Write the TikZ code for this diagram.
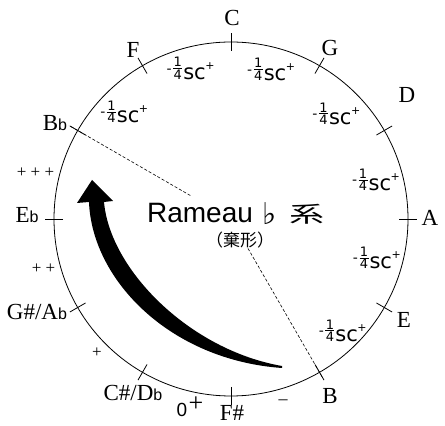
\documentclass[tikz,border=0pt]{standalone}
\usepackage{fontspec}
\setmainfont{Liberation Serif}
\setsansfont{Liberation Sans}
\newfontfamily\cjkfont{Noto Sans CJK JP}
\newfontfamily\symfont{DejaVu Sans}
\usetikzlibrary{calc,positioning}
\tikzset{
    note name/.style={inner sep=0pt,font=\fontsize{23}{23}\selectfont},
    comma label/.style={inner sep=0pt,font=\symfont\fontsize{14}{14}\selectfont},
    sign/.style={inner sep=0pt,font=\fontsize{17}{17}\selectfont},
    notch/.style={line width=0.8pt},
    guide/.style={line width=0.6pt,dash pattern=on 3pt off 2pt}
}
\newcommand{\flt}{\textsf{\fontsize{16}{16}\selectfont b}}
\newcommand{\qfrac}{\vbox{\fontsize{13}{13}\selectfont\offinterlineskip
    \halign{\hfil##\hfil\cr 1\cr\noalign{\kern1pt}\rule{9pt}{0.6pt}\cr\noalign{\kern1.2pt}4\cr}}}
\newcommand{\quartsc}{\raisebox{6pt}{-}\kern1.5pt\qfrac\kern1pt{\fontsize{21}{21}\selectfont sc}\kern-0.5pt\raisebox{10pt}{\fontsize{11}{11}\selectfont +}}

\begin{document}
\begin{tikzpicture}[x=1pt,y=1pt]
\useasboundingbox (0,0) rectangle (445,426);
\coordinate (O) at (231,207);
\draw[notch] (O) circle (177);
\foreach \a in {0,30,...,330}
    \draw[notch] ($(O)+(\a:168)$) -- ($(O)+(\a:186)$);
% note names round the circle
\foreach \name/\x/\y [count=\i] in {C/232/408,G/330/378,D/407/331,A/430/208,E/404/106,B/330/30,{C\#/D\flt}/133/33,{G\#/A\flt}/37/114,E\flt/27/211,B\flt/55/303,F/133/376}
    \node[note name] (note\i) at (\x,\y) {\name};
\node[note name,anchor=base] (fsharp) at (232,5) {F\#};
% quarter comma labels
\foreach \a/\r in {135/151,105/156,75/155,45/149,15/150,-15/151,-45/158}
    \node[comma label] (q\a) at ($(O)+(\a:\r)$) {\quartsc};
\node[sign] (p3) at (35.5,253.5) {+ + +};
\node[sign] (p2) at (43.5,157) {+ +};
\node[sign] (p1) at (97,73) {+};
\node[sign,font=\sffamily\fontsize{19}{19}\selectfont] (p0) at (182,16) {0};
\node[sign,font=\fontsize{26}{26}\selectfont] (p0s) at (196,22) {+};
\node[sign,font=\fontsize{18}{18}\selectfont] (m1) at (283,24) {--};
% title
\node[inner sep=0pt,font=\sffamily\fontsize{28}{28}\selectfont] (rameau) at (200,213) {Rameau};
\node[inner sep=0pt,font=\symfont\fontsize{30}{30}\selectfont] (flat) at (270,212) {♭};
\node[inner sep=0pt,font=\cjkfont\fontsize{26}{26}\selectfont] (kei) at (307,212) {\scalebox{1.35}[0.85]{系}};
\node[inner sep=0pt,font=\cjkfont\fontsize{17}{17}\selectfont] (shape) at (240,186) {（棄形）};
\coordinate (bb in) at ($(O)+(150:47)$);
\coordinate (bb out) at ($(O)+(150:187)$);
\coordinate (b in) at ($(O)+(-60:34)$);
\coordinate (b out) at ($(O)+(-60:182)$);
\draw[guide] (bb in) -- (bb out);
\draw[guide] (b in) -- (b out);
% big arrow
\fill (89,224) .. controls (92,146) and (170,66) .. (282,58) -- (282,60)
    .. controls (190,76) and (110,156) .. (104,224) -- (113,225) -- (92,246) -- (77,223) -- cycle;
\end{tikzpicture}
\end{document}
